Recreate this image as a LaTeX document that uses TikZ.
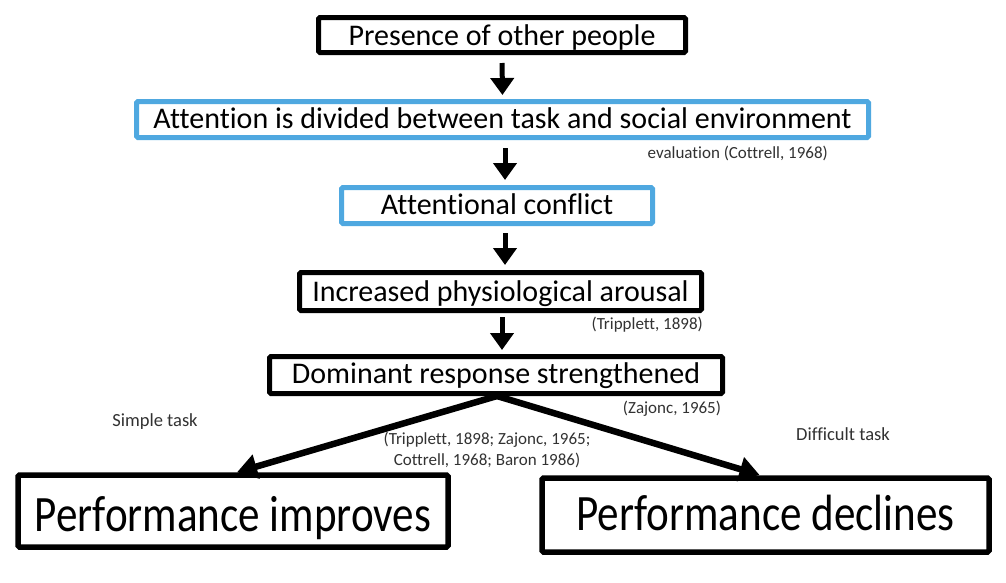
\documentclass[tikz,border=0pt]{standalone}
\usepackage{fontspec}
\setmainfont[Ligatures=CommonOff]{Carlito}
\newfontfamily\bigfont[FakeStretch=0.845,Ligatures=CommonOff]{Carlito}
\usetikzlibrary{arrows.meta}
\definecolor{boxblue}{RGB}{79,168,224}
\definecolor{labgray}{RGB}{50,50,50}
\begin{document}
\begin{tikzpicture}[x=1pt,y=-1pt,
  stepbox/.style={draw=black,line width=5pt,rounded corners=1.5pt,inner sep=0pt,
     font=\fontsize{30}{36}\selectfont,text=black,text height=22pt,text depth=5pt},
  bluebox/.style={stepbox,draw=boxblue},
  bigbox/.style={stepbox,line width=5.5pt,font=\bigfont\fontsize{51}{58}\selectfont},
  lab/.style={inner sep=0pt,text=labgray,font=\fontsize{17}{21}\selectfont},
  varr/.style={line width=5pt,-{Triangle[width=23pt,length=17pt]}},
  darr/.style={line width=6.5pt,-{Triangle[width=24pt,length=20pt]}}]
\useasboundingbox[fill=white] (0,0) rectangle (1006,582);

\node[stepbox,minimum width=367pt,minimum height=35pt,text depth=2pt] (b1) at (502,35) {Presence of other people};
\node[bluebox,minimum width=732pt,minimum height=36pt] (b2) at (502.5,119.5) {Attention is divided between task and social environment};
\node[bluebox,minimum width=311pt,minimum height=36pt] (b3) at (497,205.5) {Attentional conflict};
\node[stepbox,minimum width=402pt,minimum height=38pt,text depth=2pt] (b4) at (500.5,291.5) {Increased physiological arousal};
\node[stepbox,minimum width=453pt,minimum height=37pt] (b5) at (496,375) {Dominant response strengthened};
\node[bigbox,minimum width=430pt,minimum height=72pt,text height=44pt,text depth=4pt] (b6) at (233,511) {Performance improves};
\node[bigbox,minimum width=447pt,minimum height=74pt,text height=36pt,text depth=6pt] (b7) at (765.5,515) {Performance declines};

\node[lab,anchor=east] (l1) at (828,153) {evaluation (Cottrell, 1968)};
\node[lab,anchor=east] (l2) at (703,325) {(Tripplett, 1898)};
\node[lab] (l3) at (672,409) {(Zajonc, 1965)};
\node[lab,font=\fontsize{18.5}{22}\selectfont] (l4) at (155,422) {Simple task};
\node[lab,font=\fontsize{18.5}{22}\selectfont] (l5) at (843,434) {Difficult task};
\node[lab,align=center] (l6) at (487,450) {(Tripplett, 1898; Zajonc, 1965;\\Cottrell, 1968; Baron 1986)};

\draw[varr,shorten <=8pt,shorten >=4pt] (b1.south) -- (b2.north);
\draw[varr,shorten <=8pt,shorten >=5pt] ([xshift=2.5pt]b2.south) -- ([xshift=8pt]b3.north);
\draw[varr,shorten <=7pt,shorten >=5pt] ([xshift=8pt]b3.south) -- ([xshift=4.5pt]b4.north);
\draw[varr,shorten <=4pt,shorten >=4pt] ([xshift=1.5pt]b4.south) -- ([xshift=6pt]b5.north);

\draw[darr,shorten <=-1pt] ([xshift=1pt]b5.south) -- ([xshift=4pt]b6.north);
\draw[darr,shorten <=-1pt,shorten >=1pt] ([xshift=1pt]b5.south) -- ([xshift=-5pt]b7.north);
\end{tikzpicture}
\end{document}
